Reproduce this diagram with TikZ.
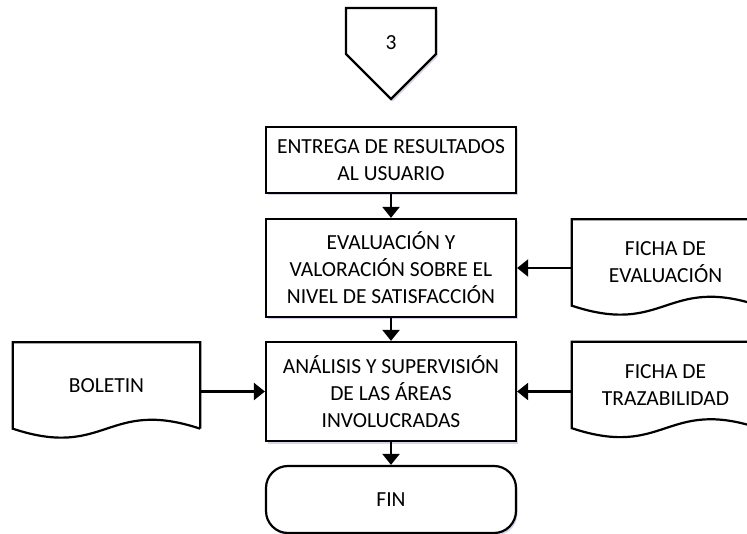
\documentclass[tikz,border=0pt]{standalone}
\usepackage{fontspec}
\setmainfont{Carlito}
\usetikzlibrary{arrows.meta, positioning, shadows}

\tikzset{
    sombra/.style={drop shadow={shadow xshift=1.5pt, shadow yshift=-2.5pt, fill=blue!35!gray, opacity=0.25}},
    proceso/.style={draw, line width=2.2pt, fill=white, minimum width=250pt, align=center,
        font=\fontsize{21.5}{27}\selectfont, sombra},
    documento/.style={minimum width=187pt, minimum height=86pt, align=center,
        font=\fontsize{21.5}{27}\selectfont},
    flecha/.style={line width=2.2pt, -{Triangle[length=11pt, width=17pt]}},
    linea/.style={line width=2.2pt, line join=miter},
}

\begin{document}
\begin{tikzpicture}[x=1pt, y=-1pt]
    \useasboundingbox (0,0) rectangle (747,534);
    \clip (0,0) rectangle (747,534);

    % Off-page connector
    \draw[linea, fill=white, sombra] (346,8) -- (436,8) -- (436,54) -- (391,99) -- (346,54) -- cycle;
    \node[font=\fontsize{21.5}{27}\selectfont] (conector) at (391,43) {3};

    % Process boxes
    \node[proceso, minimum height=66pt] (entrega) at (391,160) {ENTREGA DE RESULTADOS\\AL USUARIO};
    \node[proceso, minimum height=98pt] (evaluacion) at (391,268) {EVALUACIÓN Y\\VALORACIÓN SOBRE EL\\NIVEL DE SATISFACCIÓN};
    \node[proceso, minimum height=99pt] (analisis) at (391,391.5) {ANÁLISIS Y SUPERVISIÓN\\DE LAS ÁREAS\\INVOLUCRADAS};
    \node[proceso, minimum height=67pt, rounded corners=22pt] (fin) at (391,499.5) {FIN};

    % Documents
    \node[documento] (boletin) at (106.5,385.5) {BOLETIN};
    \node[documento] (fichaeval) at (665.5,262.5) {FICHA DE\\EVALUACIÓN};
    \node[documento] (fichatraz) at (665.5,385) {FICHA DE\\TRAZABILIDAD};

    \foreach \doc in {boletin, fichaeval, fichatraz} {
        \draw[linea] (\doc.south east) -- (\doc.north east) -- (\doc.north west) -- (\doc.south west)
            .. controls ([xshift=93.5pt, yshift=-31pt]\doc.south west) and ([xshift=-93.5pt, yshift=31pt]\doc.south east) .. (\doc.south east);
    }

    % Connectors
    \draw[flecha] (entrega) -- (evaluacion);
    \draw[flecha] (evaluacion) -- (analisis);
    \draw[flecha] (analisis) -- (fin);
    \draw[flecha] (fichaeval.west |- evaluacion.east) -- (evaluacion.east);
    \draw[flecha] (boletin.east |- analisis.west) -- (analisis.west);
    \draw[flecha] (fichatraz.west |- analisis.east) -- (analisis.east);
\end{tikzpicture}
\end{document}
